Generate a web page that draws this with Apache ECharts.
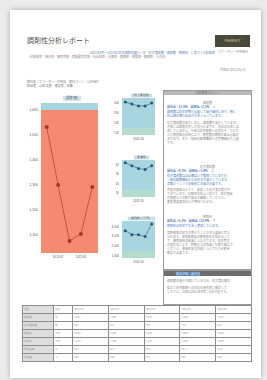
<!DOCTYPE html>
<html><head><meta charset="utf-8">
<script src="https://cdn.jsdelivr.net/npm/echarts@6/dist/echarts.min.js"></script>
<style>
html,body{margin:0;padding:0;width:267px;height:380px;overflow:hidden;background:#ebebeb;font-family:"Noto Sans CJK JP","Noto Sans",sans-serif;}
#page{position:absolute;left:10px;top:10px;width:251px;height:368px;background:#fff;box-shadow:0 0 5px rgba(0,0,0,0.28);}
.t{position:absolute;white-space:nowrap;color:#8a8a8a;font-size:3px;line-height:4px;}
#chart{position:absolute;left:0;top:0;width:267px;height:380px;}
.box{position:absolute;border:0.7px solid #9a9a9a;background:#fff;}
.bar{position:absolute;left:0;right:0;top:0;height:4px;background:#b9b9b9;}
table{position:absolute;border-collapse:collapse;left:22px;top:305px;width:230px;}
td{border:0.6px solid #8c8c8c;height:7px;padding:0 1px;font-size:2.6px;line-height:3px;color:#999;white-space:nowrap;overflow:hidden;}
td.h{background:#dedede;}
</style></head>
<body>
<div id="page"></div>
<div class="t" style="left:27px;top:36px;font-size:7px;line-height:9px;color:#555;">調剤性分析レポート</div>
<div class="t" style="left:215px;top:35px;width:35px;height:12px;background:#4b4939;color:#d8d4c0;font-size:3px;line-height:12px;text-align:center;">PHARMACY</div>
<div class="t" style="left:218px;top:50px;">ファーマシー中央薬局</div>
<div class="t" style="left:90px;top:51px;color:#5b80b4;">2021年4月〜2022年3月の調剤実績データ（処方箋枚数・調剤数・薬剤料）に基づく分析結果</div>
<div class="t" style="left:27px;top:55px;color:#9a8a8a;">（対象薬剤：降圧薬・糖尿病薬・脂質異常症薬・抗血栓薬・抗菌薬・鎮痛薬・胃腸薬・睡眠薬・その他）</div>
<div class="t" style="left:220px;top:68px;">作成日 2022/05/10</div>
<div class="t" style="left:27px;top:80px;color:#777;">薬局名：ファーマシー中央店　薬局コード：1234567</div>
<div class="t" style="left:27px;top:84px;color:#777;">担当者：山田 太郎　確認者：佐藤</div>

<div class="box" style="left:163px;top:90px;width:87px;height:178px;">
  <div class="bar"></div>
  <div class="t" style="left:0;width:87px;text-align:center;top:0;color:#666;">分析結果コメント</div>
  <div class="t" style="left:0;width:87px;text-align:center;top:10px;">調剤数</div>
  <div class="t" style="left:3px;top:14px;color:#3f6fb0;font-weight:bold;">前年比 −12.5%　前月比 +3.2%　↓</div>
  <div class="t" style="left:3px;top:19px;color:#4a7cc0;">調剤数は前年同期と比較して減少傾向にあり、特に</div>
  <div class="t" style="left:3px;top:23px;color:#4a7cc0;">秋以降の落ち込みが大きくなっています。</div>
  <div class="t" style="left:3px;top:30px;">処方箋枚数の減少に伴い、調剤数も減少しています。</div>
  <div class="t" style="left:3px;top:34px;">冬季には回復の兆しが見られますが、前年の水準には</div>
  <div class="t" style="left:3px;top:38px;">達していません。今後は在宅医療への対応や、かかり</div>
  <div class="t" style="left:3px;top:42px;">つけ薬剤師の活用により、患者数の確保を図る必要が</div>
  <div class="t" style="left:3px;top:46px;">あります。また、地域の医療機関との連携強化も重要</div>
  <div class="t" style="left:3px;top:50px;">です。</div>
  <div class="t" style="left:0;width:87px;text-align:center;top:74px;">処方箋枚数</div>
  <div class="t" style="left:3px;top:78px;color:#3f6fb0;font-weight:bold;">前年比 −4.1%　前月比 +1.8%　↓</div>
  <div class="t" style="left:3px;top:83px;color:#4a7cc0;">処方箋枚数はほぼ横ばいで推移していますが、</div>
  <div class="t" style="left:3px;top:87px;color:#4a7cc0;">一部の医療機関からの処方が減少しています。</div>
  <div class="t" style="left:3px;top:91px;color:#4a7cc0;">近隣クリニックの動向に注意が必要です。</div>
  <div class="t" style="left:3px;top:97px;">月別の変動は小さく、安定した処方箋の受付が</div>
  <div class="t" style="left:3px;top:101px;">できています。応需率の向上に向けて、待ち時間</div>
  <div class="t" style="left:3px;top:105px;">の短縮などの取り組みを継続してください。</div>
  <div class="t" style="left:3px;top:109px;">患者満足度の向上が期待されます。</div>
  <div class="t" style="left:0;width:87px;text-align:center;top:124px;">薬剤料</div>
  <div class="t" style="left:3px;top:128px;color:#3f6fb0;font-weight:bold;">前年比 +6.3%　前月比 +15.4%　↑</div>
  <div class="t" style="left:3px;top:133px;color:#4a7cc0;">薬剤料は直近で大きく増加しています。</div>
  <div class="t" style="left:3px;top:140px;">高額薬剤の処方が増えたことが主な要因と考え</div>
  <div class="t" style="left:3px;top:144px;">られます。後発医薬品の使用割合を高めること</div>
  <div class="t" style="left:3px;top:148px;">で、患者負担の軽減につながります。在庫管理</div>
  <div class="t" style="left:3px;top:152px;">の適正化により、廃棄ロスの削減にも取り組んで</div>
  <div class="t" style="left:3px;top:156px;">ください。薬価改定の影響についても引き続き</div>
  <div class="t" style="left:3px;top:160px;">確認が必要です。</div>
</div>
<div class="box" style="left:163px;top:270px;width:87px;height:33px;">
  <div class="bar" style="height:5px;background:#6d6d6d;"></div>
  <div class="t" style="left:12px;top:0.5px;color:#cfe0f4;background:#5f86b8;">総合評価：要改善</div>
  <div class="t" style="left:3px;top:8px;">調剤数の減少が続いているため、処方箋応需の</div>
  <div class="t" style="left:3px;top:15px;">拡大と在宅医療への対応を優先的に検討して</div>
  <div class="t" style="left:3px;top:19px;">ください。次回は2022年8月に分析予定です。</div>
</div>

<table>
<tr><td class="h" style="width:28px">項目</td><td style="width:16px">単位</td><td>2021/04</td><td>2021/07</td><td>2021/10</td><td>2022/01</td><td>2022/04</td></tr>
<tr><td class="h">調剤数</td><td>件</td><td>1,532</td><td>1,300</td><td>1,076</td><td>1,104</td><td>1,292</td></tr>
<tr><td class="h">処方箋枚数</td><td>枚</td><td>842</td><td>812</td><td>786</td><td>775</td><td>812</td></tr>
<tr><td class="h">薬剤料</td><td>千円</td><td>3,600</td><td>3,200</td><td>3,200</td><td>3,000</td><td>4,300</td></tr>
<tr><td class="h">技術料</td><td>千円</td><td>1,210</td><td>1,180</td><td>1,150</td><td>1,160</td><td>1,200</td></tr>
<tr><td class="h">後発品率</td><td>%</td><td>82.1</td><td>82.5</td><td>83.0</td><td>83.4</td><td>84.0</td></tr>
<tr><td class="h">患者数</td><td>人</td><td>620</td><td>598</td><td>571</td><td>566</td><td>590</td></tr>
</table>

<div id="chart"></div>
<script>
const categories = ['2021/04', '2021/07', '2021/10', '2022/01', '2022/04'];
const mainTitle = '調剤数';
const mainValues = [532, 300, 76, 104, 292];
const mainRange = [28, 628];
const mainThreshold = 600;
const sub1Title = '処方箋枚数';
const sub1Values = [410, 390, 370, 370, 400];
const sub1Range = [80, 450];
const sub1Band = 150;
const sub2Title = '患者数';
const sub2Values = [42, 39, 36, 35, 39];
const sub2Range = [6, 45];
const sub2Band = 13;
const sub3Title = '薬剤料（千円）';
const sub3Values = [3600, 3200, 3200, 3000, 4300];
const sub3Range = [800, 4600];
const sub3Band = 1500;

const lbl = {fontSize: 3.5, color: '#666', margin: 3};
const grids = [
  {left: 41, top: 103, width: 57, height: 150},
  {left: 122, top: 98, width: 33, height: 37},
  {left: 122, top: 160, width: 33, height: 37},
  {left: 122, top: 221, width: 33, height: 37}
];
const subs = [
  {title: sub1Title, values: sub1Values, range: sub1Range, band: sub1Band},
  {title: sub2Title, values: sub2Values, range: sub2Range, band: sub2Band},
  {title: sub3Title, values: sub3Values, range: sub3Range, band: sub3Band}
];
const option = {
  animation: false,
  title: [
    {text: mainTitle, left: 69, top: 96, textAlign: 'center', padding: [0.5, 3], backgroundColor: '#cfe5ec',
      textStyle: {fontSize: 3.5, color: '#555', fontWeight: 'normal'}}
  ].concat(subs.map((s, i) => ({
    text: s.title, left: 138.5, top: grids[i + 1].top - 4.5, textAlign: 'center', padding: [0.5, 3],
    backgroundColor: '#cfe5ec', borderColor: '#9fb9c2', borderWidth: 0.4,
    textStyle: {fontSize: 3, color: '#555', fontWeight: 'normal'}
  }))),
  grid: grids.map((g, i) => Object.assign({show: true, borderWidth: 0, backgroundColor: '#a9d5e0'}, g)),
  xAxis: grids.map((g, i) => ({
    type: 'category', gridIndex: i, data: categories, boundaryGap: true,
    axisLine: {show: false}, axisTick: {show: false}, splitLine: {show: false},
    axisLabel: Object.assign({}, lbl, {fontSize: 3, interval: i === 0 ? (idx => idx % 2 === 1) : (idx => idx === 2)})
  })),
  yAxis: [
    {type: 'value', gridIndex: 0, min: mainRange[0], max: mainRange[1], splitLine: {show: false},
      axisLine: {show: false}, axisTick: {show: false},
      axisLabel: Object.assign({}, lbl, {showMinLabel: false, showMaxLabel: false, formatter: v => (v + 1000).toLocaleString('en-US')})}
  ].concat(subs.map((s, i) => ({
    type: 'value', gridIndex: i + 1, min: s.range[0], max: s.range[1], splitLine: {show: false},
    axisLine: {show: false}, axisTick: {show: false},
    axisLabel: Object.assign({}, lbl, {fontSize: 3, showMinLabel: false, showMaxLabel: false, formatter: v => v.toLocaleString('en-US')})
  }))),
  series: [
    {type: 'line', xAxisIndex: 0, yAxisIndex: 0, data: mainValues, symbol: 'circle', symbolSize: 4,
      lineStyle: {color: '#b8473b', width: 0.8}, itemStyle: {color: '#a8352b'},
      markArea: {silent: true, itemStyle: {color: '#f48a72'}, data: [[{yAxis: mainRange[0]}, {yAxis: mainThreshold}]]},
      z: 3}
  ].concat(subs.map((s, i) => ({
    type: 'line', xAxisIndex: i + 1, yAxisIndex: i + 1, data: s.values, symbol: 'circle', symbolSize: 3,
    lineStyle: {color: '#2f6e8e', width: 0.7}, itemStyle: {color: '#235a78'},
    markArea: {silent: true, itemStyle: {color: '#b3dccd'}, data: [[{yAxis: s.range[0]}, {yAxis: s.band}]]}
  })))
};
const chart = echarts.init(document.getElementById('chart'), null, {renderer: 'canvas'});
chart.setOption(option);
</script>
</body></html>
